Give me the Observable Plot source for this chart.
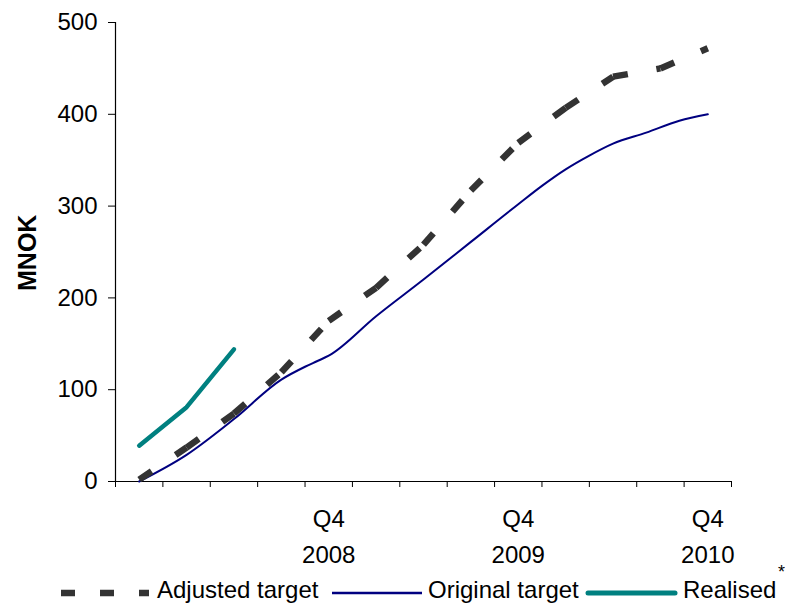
<!DOCTYPE html>
<html>
<head>
<meta charset="utf-8">
<script src="https://cdn.jsdelivr.net/npm/d3@7"></script>
<script src="https://cdn.jsdelivr.net/npm/@observablehq/plot@0.6"></script>
<style>
  html, body { margin: 0; padding: 0; background: #ffffff; }
  #chart { width: 785px; position: relative; }
  #chart svg { display: block; }
  #legend text { font-family: "Liberation Sans", Arial, sans-serif; font-size: 24px; fill: #000; }
  #note { position: absolute; left: 778px; top: 562px; font: 18px "Liberation Sans", Arial, sans-serif; line-height: 20px; }
</style>
</head>
<body>
<div id="chart"></div>
<script>
// Quarters from Q4 2007 to Q4 2010 (position 0 .. 12)
const quarters = ["Q4 2007", "Q1 2008", "Q2 2008", "Q3 2008", "Q4 2008",
                  "Q1 2009", "Q2 2009", "Q3 2009", "Q4 2009",
                  "Q1 2010", "Q2 2010", "Q3 2010", "Q4 2010"];

// Cumulative values, MNOK
const adjustedTarget = [2, 37, 74, 119, 175, 211, 258, 317, 369, 407, 441, 450, 472];
const realised = [39, 81, 144];
const originalPos = [0, 1, 2, 3, 3.5, 3.75, 4, 5, 6, 7, 8, 8.5, 9, 9.5, 10, 10.7, 11.4, 12];
const originalTarget = [0, 29, 68, 111, 125, 131, 137, 180, 220, 261, 302, 322, 340, 355, 368, 380, 393, 400];

// Axis ticks and labels
const yTicks = [0, 100, 200, 300, 400, 500];
const labelPos = [4, 8, 12];
const labelText = ["Q4\n2008", "Q4\n2009", "Q4\n2010"];

const xDomain = [-0.5, quarters.length - 0.5];
const bandEdges = d3.range(xDomain[0], xDomain[1] + 0.001, 1);

const originalData = originalPos.map((p, i) => ({x: p, y: originalTarget[i]}));
const realisedData = realised.map((v, i) => ({x: i, y: v}));
// each segment drawn on its own so the dash pattern restarts at every quarter
const adjustedSegments = adjustedTarget.slice(1).map((v, i) => ({
  x1: i, y1: adjustedTarget[i], x2: i + 1, y2: v
}));

const chart = Plot.plot({
  width: 785,
  height: 572,
  marginLeft: 115,
  marginRight: 54,
  marginTop: 22,
  marginBottom: 91,
  style: {fontFamily: '"Liberation Sans", Arial, sans-serif', fontSize: "24px", color: "#000", background: "#fff"},
  x: {domain: xDomain, axis: null},
  y: {domain: [0, 500], axis: null},
  marks: [
    // axes
    Plot.axisY({ticks: yTicks, tickSize: 7, tickPadding: 11, fontSize: 24, label: null, stroke: "#000"}),
    Plot.axisX({ticks: bandEdges, tickSize: 6, tickFormat: () => "", label: null, stroke: "#000"}),
    Plot.ruleY([0], {stroke: "#000", strokeWidth: 1.2}),
    Plot.ruleX([xDomain[0]], {y1: 0, y2: 500, stroke: "#000", strokeWidth: 1.2}),
    Plot.text(labelPos, {
      x: d => d, text: (d, i) => labelText[i],
      frameAnchor: "bottom", lineAnchor: "top", dy: 20, lineHeight: 1.5, fontSize: 24
    }),
    Plot.text(["MNOK"], {frameAnchor: "left", dx: -88, dy: 39, rotate: -90, fontWeight: "bold", fontSize: 25}),
    // series
    Plot.line(originalData, {x: "x", y: "y", stroke: "#000080", strokeWidth: 2, curve: "monotone-x"}),
    Plot.link(adjustedSegments, {
      x1: "x1", y1: "y1", x2: "x2", y2: "y2",
      stroke: "#333333", strokeWidth: 6.5, strokeDasharray: "15,29", strokeLinecap: "butt"
    }),
    Plot.line(realisedData, {x: "x", y: "y", stroke: "#008080", strokeWidth: 4.5, strokeLinecap: "round", strokeLinejoin: "round"})
  ]
});
document.getElementById("chart").appendChild(chart);

// legend below the plot
const legendItems = [
  {name: "Adjusted target", stroke: "#333333", width: 6.5, dash: "14,25", cap: "butt", x0: 61, x1: 149, tx: 157},
  {name: "Original target", stroke: "#000080", width: 2.5, dash: null, cap: "butt", x0: 332, x1: 422, tx: 428},
  {name: "Realised", stroke: "#008080", width: 5, dash: null, cap: "round", x0: 588, x1: 675, tx: 683}
];
const legend = d3.select("#chart").append("svg")
  .attr("id", "legend")
  .attr("width", 785).attr("height", 34);
const item = legend.selectAll("g").data(legendItems).join("g");
item.append("line")
  .attr("x1", d => d.x0).attr("x2", d => d.x1)
  .attr("y1", 21).attr("y2", 21)
  .attr("stroke", d => d.stroke)
  .attr("stroke-width", d => d.width)
  .attr("stroke-linecap", d => d.cap)
  .attr("stroke-dasharray", d => d.dash);
item.append("text")
  .attr("x", d => d.tx).attr("y", 26)
  .text(d => d.name);

// footnote marker after the legend
d3.select("#chart").append("div").attr("id", "note").text("*");
</script>
</body>
</html>
